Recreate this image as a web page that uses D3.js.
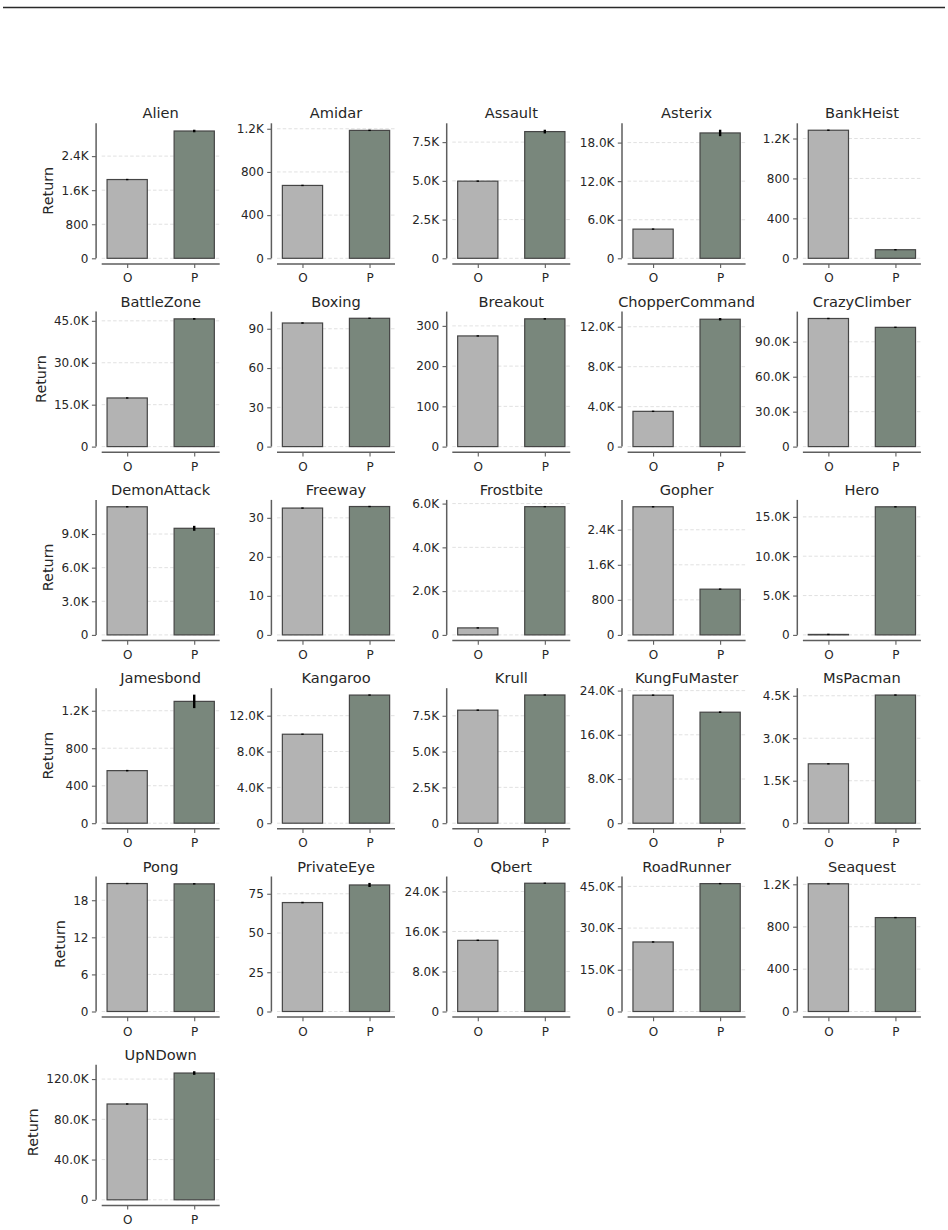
<!DOCTYPE html>
<html>
<head>
<meta charset="utf-8">
<script src="https://cdn.jsdelivr.net/npm/d3@7"></script>
<style>
  body { margin: 0; background: #fff; }
  text { font-family: "DejaVu Sans", sans-serif; }
</style>
</head>
<body>
<div id="chart"></div>
<script>
var games = ["Alien", "Amidar", "Assault", "Asterix", "BankHeist",
  "BattleZone", "Boxing", "Breakout", "ChopperCommand", "CrazyClimber",
  "DemonAttack", "Freeway", "Frostbite", "Gopher", "Hero",
  "Jamesbond", "Kangaroo", "Krull", "KungFuMaster", "MsPacman",
  "Pong", "PrivateEye", "Qbert", "RoadRunner", "Seaquest", "UpNDown"];

var methods = ["O", "P"];

var valuesO = [1850, 675, 4980, 4540, 1283,
  17400, 94.4, 275, 3530, 110000,
  11430, 32.5, 320, 2925, 60,
  561, 9930, 7890, 23170, 2097,
  20.7, 69.4, 14230, 25000, 1205, 95240];
var errO = [12, 5, 30, 80, 5,
  150, 0.6, 1.5, 40, 400,
  40, 0.15, 10, 10, 10,
  8, 60, 25, 100, 20,
  0.1, 0.5, 90, 200, 8, 500];

var valuesP = [2990, 1185, 8180, 19500, 86,
  45700, 98, 317.5, 12750, 102400,
  9510, 32.9, 5860, 1044, 16280,
  1300, 14300, 8950, 20090, 4525,
  20.65, 80.6, 25650, 45980, 886, 126000];
var errP = [30, 6, 120, 500, 2,
  300, 0.2, 2, 120, 400,
  220, 0.05, 15, 8, 60,
  72, 50, 25, 150, 15,
  0.06, 1.3, 60, 250, 3, 1800];

var yTicks = [
  [0, 800, 1600, 2400], [0, 400, 800, 1200], [0, 2500, 5000, 7500], [0, 6000, 12000, 18000], [0, 400, 800, 1200],
  [0, 15000, 30000, 45000], [0, 30, 60, 90], [0, 100, 200, 300], [0, 4000, 8000, 12000], [0, 30000, 60000, 90000],
  [0, 3000, 6000, 9000], [0, 10, 20, 30], [0, 2000, 4000, 6000], [0, 800, 1600, 2400], [0, 5000, 10000, 15000],
  [0, 400, 800, 1200], [0, 4000, 8000, 12000], [0, 2500, 5000, 7500], [0, 8000, 16000, 24000], [0, 1500, 3000, 4500],
  [0, 6, 12, 18], [0, 25, 50, 75], [0, 8000, 16000, 24000], [0, 15000, 30000, 45000], [0, 400, 800, 1200],
  [0, 40000, 80000, 120000]
];

var barColors = { O: "#b3b3b3", P: "#79877c" };
var spineColor = "#5e5e5e";

var W = 948, H = 1230;
var axLeft0 = 101.7, colStep = 175.3;
var axTop0 = 123.3, rowStep = 188.3;
var axW = 118, axH = 135;
var offset = 5.6;

var svg = d3.select("#chart").append("svg")
  .attr("width", W)
  .attr("height", H);

// rule across the top
svg.append("line")
  .attr("x1", 3).attr("x2", 945)
  .attr("y1", 7.5).attr("y2", 7.5)
  .attr("stroke", "#2a2a2a")
  .attr("stroke-width", 1.3);

function fmt(v) {
  if (v >= 1000) return (v / 1000).toFixed(1) + "K";
  return String(v);
}

games.forEach(function (game, i) {
  var col = i % 5, row = Math.floor(i / 5);
  var left = axLeft0 + col * colStep;
  var top = axTop0 + row * rowStep;

  var data = methods.map(function (m) {
    return {
      method: m,
      value: m === "O" ? valuesO[i] : valuesP[i],
      err: m === "O" ? errO[i] : errP[i]
    };
  });

  var ymax = d3.max(data, function (d) { return d.value + d.err; }) * 1.05;

  var x = d3.scaleLinear().domain([-0.38, 1.38]).range([0, axW]);
  var y = d3.scaleLinear().domain([0, ymax]).range([axH, 0]);

  var g = svg.append("g")
    .attr("transform", "translate(" + left + "," + top + ")");

  // dashed grid
  g.selectAll("line.grid")
    .data(yTicks[i])
    .enter()
    .append("line")
    .attr("class", "grid")
    .attr("x1", 0).attr("x2", axW)
    .attr("y1", function (d) { return y(d); })
    .attr("y2", function (d) { return y(d); })
    .attr("stroke", "#d9d9d9")
    .attr("stroke-width", 0.8)
    .attr("stroke-dasharray", "3.5,2.2");

  // bars
  g.selectAll("rect.bar")
    .data(data)
    .enter()
    .append("rect")
    .attr("class", "bar")
    .attr("x", function (d, j) { return x(j - 0.3); })
    .attr("width", x(0.6) - x(0))
    .attr("y", function (d) { return y(d.value); })
    .attr("height", function (d) { return axH - y(d.value); })
    .attr("fill", function (d) { return barColors[d.method]; })
    .attr("stroke", "#454545")
    .attr("stroke-width", 1.2);

  // error bars (at least a short tick so each one shows)
  g.selectAll("line.err")
    .data(data)
    .enter()
    .append("line")
    .attr("class", "err")
    .attr("x1", function (d, j) { return x(j); })
    .attr("x2", function (d, j) { return x(j); })
    .attr("y1", function (d) { return Math.max(y(d.value - d.err), y(d.value) + 0.7); })
    .attr("y2", function (d) { return Math.min(y(d.value + d.err), y(d.value) - 0.7); })
    .attr("stroke", "#000")
    .attr("stroke-width", 2.4);

  // y axis, offset left
  var yAxis = d3.axisLeft(y)
    .tickValues(yTicks[i])
    .tickFormat(fmt)
    .tickSize(4.2)
    .tickPadding(3.4);

  var ya = g.append("g")
    .attr("transform", "translate(" + (-offset) + ",0)")
    .call(yAxis);
  ya.select(".domain").remove();
  ya.append("line")
    .attr("x1", 0).attr("x2", 0)
    .attr("y1", 0).attr("y2", axH)
    .attr("stroke", spineColor)
    .attr("stroke-width", 1.5);
  ya.selectAll(".tick line").attr("stroke", spineColor).attr("stroke-width", 1.1);
  ya.selectAll(".tick text")
    .attr("font-size", "12px")
    .attr("font-family", "DejaVu Sans, sans-serif")
    .attr("fill", "#262626");

  // x axis, offset down
  var xAxis = d3.axisBottom(x)
    .tickValues([0, 1])
    .tickFormat(function (d) { return methods[d]; })
    .tickSize(4.2)
    .tickPadding(5.8);

  var xa = g.append("g")
    .attr("transform", "translate(0," + (axH + offset) + ")")
    .call(xAxis);
  xa.select(".domain").remove();
  xa.append("line")
    .attr("x1", 0).attr("x2", axW)
    .attr("y1", 0).attr("y2", 0)
    .attr("stroke", spineColor)
    .attr("stroke-width", 1.5);
  xa.selectAll(".tick line").attr("stroke", spineColor).attr("stroke-width", 1.1);
  xa.selectAll(".tick text")
    .attr("font-size", "12px")
    .attr("font-family", "DejaVu Sans, sans-serif")
    .attr("fill", "#262626");

  // title
  g.append("text")
    .attr("x", axW / 2)
    .attr("y", -5)
    .attr("text-anchor", "middle")
    .attr("font-size", "14.6px")
    .attr("fill", "#262626")
    .text(game);

  // y label on first column only, placed left of the widest tick label
  if (col === 0) {
    var widest = 0;
    ya.selectAll(".tick text").each(function () {
      widest = Math.max(widest, this.getComputedTextLength());
    });
    var labelX = -offset - 4.2 - 3.4 - widest - 4.8 - 0.236 * 14.4;
    g.append("text")
      .attr("transform", "translate(" + labelX + "," + (axH / 2) + ") rotate(-90)")
      .attr("text-anchor", "middle")
      .attr("font-size", "14.4px")
      .attr("fill", "#262626")
      .text("Return");
  }
});
</script>
</body>
</html>
